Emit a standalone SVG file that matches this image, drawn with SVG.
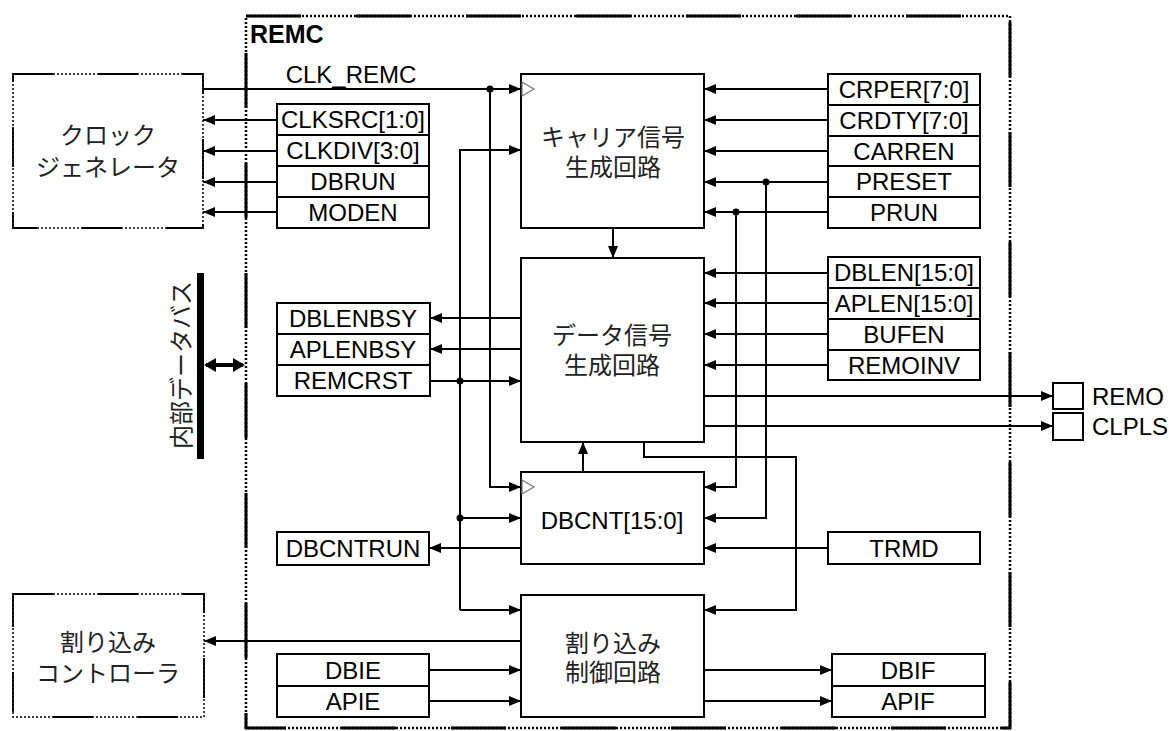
<svg xmlns="http://www.w3.org/2000/svg" width="1169" height="731" viewBox="0 0 1169 731">
<style>
.t{font-family:"Liberation Sans",Arial,sans-serif;font-size:24px;fill:#000;text-anchor:middle}
.j{font-family:"Liberation Sans","Noto Sans CJK JP","Noto Sans CJK SC",sans-serif;font-size:24px;fill:#222;text-anchor:middle}
.b{fill:#fff;stroke:#000;stroke-width:2}
.w{fill:none;stroke:#000;stroke-width:2}
.c{fill:none;stroke:#000;stroke-width:2;marker-end:url(#ah)}
.d{fill:#000}
.ck{fill:#fff;stroke:#777;stroke-width:1.2}
.dotA{fill:none;stroke:#000;stroke-width:2.5;stroke-dasharray:2 2}
.solA{fill:none;stroke:#000;stroke-width:3;stroke-dasharray:55 55}
.dotB{fill:none;stroke:#000;stroke-width:1.5;stroke-dasharray:2 2}
.solB{fill:none;stroke:#000;stroke-width:1.8;stroke-dasharray:40 45}
</style>
<defs>
<marker id="ah" viewBox="0 0 12 10" refX="12" refY="5" markerWidth="12" markerHeight="10" markerUnits="userSpaceOnUse" orient="auto"><path d="M0,0 L12,5 L0,10 z" fill="#000"/></marker>
</defs>
<rect width="1169" height="731" fill="#fff"/>

<g id="remc">
<rect class="dotA" x="246" y="16" width="764" height="712"/>
<rect class="solA" x="246" y="16" width="764" height="712"/>
<text x="250" y="43" style="font-family:'Liberation Sans',Arial,sans-serif;font-size:25px;font-weight:bold">REMC</text>
</g>

<g id="clockgen">
<rect class="dotB" x="13" y="74" width="190" height="154"/>
<rect class="solB" x="13" y="74" width="190" height="154"/>
<text class="j"><tspan x="108" y="144">クロック</tspan><tspan x="108" y="176">ジェネレータ</tspan></text>
</g>

<g id="intctrl">
<rect class="dotB" x="13" y="594" width="191" height="123"/>
<rect class="solB" x="13" y="594" width="191" height="123"/>
<text class="j"><tspan x="108" y="651">割り込み</tspan><tspan x="108" y="682">コントローラ</tspan></text>
</g>

<g id="bus">
<rect x="197" y="273" width="7" height="186" fill="#000"/>
<text class="j" transform="translate(181,365) rotate(-90)" x="0" y="9">内部データバス</text>
</g>

<g id="clkregs">
<rect class="b" x="277" y="104" width="152" height="124"/>
<path class="w" d="M277,135H429M277,166H429M277,197H429"/>
<text class="t" x="353" y="128">CLKSRC[1:0]</text>
<text class="t" x="353" y="159">CLKDIV[3:0]</text>
<text class="t" x="353" y="190">DBRUN</text>
<text class="t" x="353" y="221">MODEN</text>
</g>

<g id="stsregs">
<rect class="b" x="277" y="303" width="153" height="93"/>
<path class="w" d="M277,334H430M277,365H430"/>
<text class="t" x="353" y="327">DBLENBSY</text>
<text class="t" x="353" y="358">APLENBSY</text>
<text class="t" x="353" y="389">REMCRST</text>
</g>

<g id="dbcntrun">
<rect class="b" x="277" y="532" width="152" height="33"/>
<text class="t" x="353" y="557">DBCNTRUN</text>
</g>

<g id="ieregs">
<rect class="b" x="277" y="654" width="152" height="63"/>
<path class="w" d="M277,686H429"/>
<text class="t" x="353" y="679">DBIE</text>
<text class="t" x="353" y="710">APIE</text>
</g>

<g id="carrier">
<rect class="b" x="521" y="74" width="183" height="154"/>
<polygon class="ck" points="522,82 534,89 522,96"/>
<text class="j"><tspan x="613" y="146">キャリア信号</tspan><tspan x="613" y="176">生成回路</tspan></text>
</g>

<g id="datagen">
<rect class="b" x="521" y="258" width="183" height="184"/>
<text class="j"><tspan x="612" y="344">データ信号</tspan><tspan x="612" y="374">生成回路</tspan></text>
</g>

<g id="dbcnt">
<rect class="b" x="521" y="472" width="183" height="92"/>
<polygon class="ck" points="522,480 534,487 522,494"/>
<text class="t" x="612" y="529">DBCNT[15:0]</text>
</g>

<g id="intctl">
<rect class="b" x="521" y="595" width="183" height="122"/>
<text class="j"><tspan x="613" y="652">割り込み</tspan><tspan x="613" y="681">制御回路</tspan></text>
</g>

<g id="carregs">
<rect class="b" x="828" y="74" width="152" height="154"/>
<path class="w" d="M828,105H980M828,136H980M828,166H980M828,197H980"/>
<text class="t" x="904" y="98">CRPER[7:0]</text>
<text class="t" x="904" y="129">CRDTY[7:0]</text>
<text class="t" x="904" y="160">CARREN</text>
<text class="t" x="904" y="190">PRESET</text>
<text class="t" x="904" y="221">PRUN</text>
</g>

<g id="lenregs">
<rect class="b" x="828" y="257" width="152" height="123"/>
<path class="w" d="M828,288H980M828,319H980M828,350H980"/>
<text class="t" x="904" y="281">DBLEN[15:0]</text>
<text class="t" x="904" y="312">APLEN[15:0]</text>
<text class="t" x="904" y="343">BUFEN</text>
<text class="t" x="904" y="374">REMOINV</text>
</g>

<g id="trmd">
<rect class="b" x="828" y="532" width="152" height="32"/>
<text class="t" x="904" y="557">TRMD</text>
</g>

<g id="ifregs">
<rect class="b" x="832" y="654" width="153" height="63"/>
<path class="w" d="M832,686H985"/>
<text class="t" x="908" y="679">DBIF</text>
<text class="t" x="908" y="710">APIF</text>
</g>

<g id="pins">
<rect class="b" x="1053" y="383" width="30" height="26"/>
<rect class="b" x="1053" y="413" width="30" height="27"/>
<text class="t" x="1092" y="405" style="text-anchor:start">REMO</text>
<text class="t" x="1092" y="435" style="text-anchor:start">CLPLS</text>
</g>

<g id="connectors">
<text class="t" x="351" y="83">CLK_REMC</text>
<path class="c" d="M203,89H521"/>
<path class="c" d="M277,120H203"/>
<path class="c" d="M277,151H203"/>
<path class="c" d="M277,182H203"/>
<path class="c" d="M277,212H203"/>
<path class="c" d="M490,89V487H521"/>
<path class="c" d="M460,610V150H521"/>
<path class="c" d="M460,518H521"/>
<path class="c" d="M460,610H521"/>
<path class="c" d="M521,318H430"/>
<path class="c" d="M521,349H430"/>
<path class="c" d="M430,381H521"/>
<path class="c" d="M521,548H429"/>
<path class="c" d="M521,641H204"/>
<path class="c" d="M429,670H521"/>
<path class="c" d="M429,701H521"/>
<path class="c" d="M613,228V258"/>
<path class="c" d="M583,472V442"/>
<path class="c" d="M644,442V457H796V610H704"/>
<path class="c" d="M828,89H704"/>
<path class="c" d="M828,120H704"/>
<path class="c" d="M828,151H704"/>
<path class="c" d="M828,182H704"/>
<path class="c" d="M828,212H704"/>
<path class="c" d="M766,182V518H704"/>
<path class="c" d="M736,212V487H704"/>
<path class="c" d="M828,273H704"/>
<path class="c" d="M828,303H704"/>
<path class="c" d="M828,334H704"/>
<path class="c" d="M828,365H704"/>
<path class="c" d="M704,396H1053"/>
<path class="c" d="M704,426H1053"/>
<path class="c" d="M828,548H704"/>
<path class="c" d="M704,670H832"/>
<path class="c" d="M704,701H832"/>
<path d="M206,365H243" stroke="#000" stroke-width="4"/>
<polygon points="204,365 216,358 216,372" fill="#000"/>
<polygon points="245,365 233,358 233,372" fill="#000"/>
<circle class="d" cx="490" cy="89" r="3.5"/>
<circle class="d" cx="460" cy="381" r="3.5"/>
<circle class="d" cx="460" cy="518" r="3.5"/>
<circle class="d" cx="766" cy="182" r="3.5"/>
<circle class="d" cx="736" cy="212" r="3.5"/>
</g>
</svg>
